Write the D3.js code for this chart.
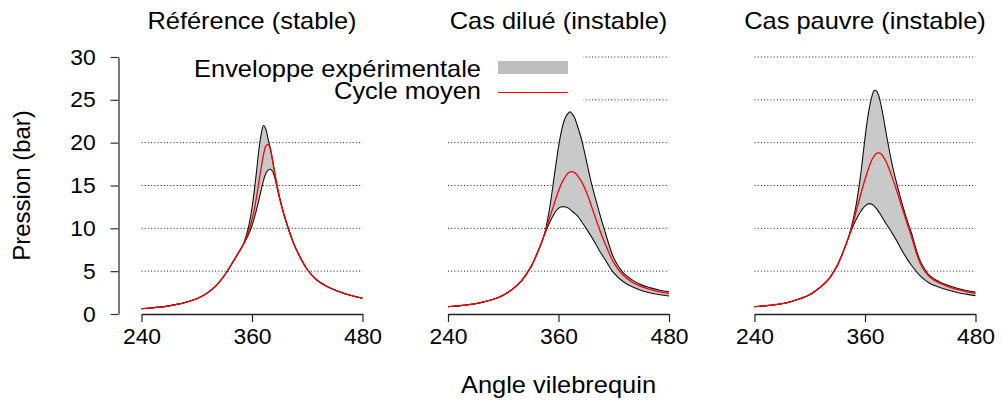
<!DOCTYPE html>
<html>
<head>
<meta charset="utf-8">
<script src="https://cdn.jsdelivr.net/npm/d3@7"></script>
<style>
  html, body { margin: 0; padding: 0; background: #fff; }
  svg text { font-family: "Liberation Sans", Arial, Helvetica, sans-serif; fill: #000; }
</style>
</head>
<body>
<svg id="chart" width="1002" height="403"></svg>
<script>
// ---- Data ----
const angles = [240,250,260,270,280,290,300,310,320,330,340,345,350,355,357.5,360,362.5,365,367.5,370,372.5,375,377.5,380,382.5,385,387.5,390,395,400,405,410,420,430,440,450,460,470,480];

const panelTitles = ["Référence (stable)", "Cas dilué (instable)", "Cas pauvre (instable)"];

const refLower = [0.62,0.70,0.80,0.95,1.15,1.42,1.78,2.35,3.20,4.50,6.20,7.10,8.00, 9.0,9.6,10.3,11.2,12.2,13.3,14.5,15.6,16.4,16.8,16.9,16.6,15.8,14.6,13.5, 11.5,9.8,8.3,7.1,5.2,4.0,3.3,2.8,2.4,2.1,1.84];
const refMean  = [0.62,0.70,0.80,0.95,1.15,1.42,1.78,2.35,3.20,4.50,6.20,7.10,8.00, 9.2,10.0,11.0,12.2,13.7,15.4,17.1,18.6,19.6,19.8,19.2,17.8,16.2,14.8,13.5, 11.5,9.8,8.3,7.1,5.2,4.0,3.3,2.8,2.4,2.1,1.84];
const refUpper = [0.62,0.70,0.80,0.95,1.15,1.42,1.78,2.35,3.20,4.50,6.20,7.10,8.00, 9.6,10.8,12.4,14.4,16.7,19.2,21.0,22.0,21.6,20.4,19.3,17.9,16.3,14.9,13.6, 11.5,9.8,8.3,7.1,5.2,4.0,3.3,2.8,2.4,2.1,1.84];

const dilLower = [0.85,0.95,1.05,1.20,1.45,1.75,2.20,2.90,3.90,5.50,7.90, 9.3,10.6,11.65,12.05,12.33,12.48,12.53,12.5,12.4,12.22,11.98,11.75,11.5,11.18,10.8,10.4,10.0,9.15,8.25,7.3,6.45,4.8,3.8,3.18,2.75,2.45,2.25,2.1];
const dilMean  = [0.85,0.95,1.05,1.20,1.45,1.75,2.20,2.90,3.90,5.50,7.90, 9.35,11.1,12.75,13.6,14.35,15.05,15.6,16.05,16.4,16.6,16.6,16.5,16.25,15.85,15.45,14.9,14.3,12.85,11.25,9.75,8.35,6.0,4.55,3.72,3.2,2.85,2.58,2.4];
const dilUpper = [0.85,0.95,1.05,1.20,1.45,1.75,2.20,2.90,3.90,5.50,7.90, 9.45,12.1,15.8,17.7,19.5,21.0,22.15,22.95,23.35,23.6,23.35,22.9,22.15,21.3,20.4,19.25,18.05,15.6,13.55,11.6,9.8,6.55,4.85,3.98,3.4,3.05,2.78,2.6];

const pauLower = [0.85,0.95,1.05,1.20,1.45,1.80,2.25,3.00,4.00,5.70,8.30, 9.75,10.95,11.9,12.3,12.6,12.8,12.88,12.82,12.6,12.3,11.92,11.5,11.05,10.6,10.2,9.8,9.35,8.45,7.45,6.55,5.75,4.45,3.6,3.15,2.8,2.52,2.32,2.15];
const pauMean  = [0.85,0.95,1.05,1.20,1.45,1.80,2.25,3.00,4.00,5.70,8.30, 9.85,11.85,13.8,14.8,15.7,16.55,17.35,18.0,18.47,18.75,18.8,18.68,18.35,17.85,17.25,16.55,15.8,14.2,12.5,10.8,9.2,5.9,4.35,3.65,3.2,2.88,2.62,2.4];
const pauUpper = [0.85,0.95,1.05,1.20,1.45,1.80,2.25,3.00,4.00,5.70,8.30, 10.05,12.5,16.0,18.25,20.55,22.6,24.2,25.4,26.1,26.05,25.45,24.35,22.95,21.4,19.9,18.5,17.2,15.0,13.0,11.2,9.6,6.2,4.5,3.8,3.35,3.0,2.75,2.55];

const yTicks = [0,5,10,15,20,25,30];
const gridValues = [5,10,15,20,25,30];
const xTicks = [240,360,480];
const legendLabels = ["Enveloppe expérimentale", "Cycle moyen"];
const xTitle = "Angle vilebrequin";
const yTitle = "Pression (bar)";

// ---- Layout ----
const svg = d3.select("#chart");
const panelLefts = [141.5, 448, 754.5];
const panelWidth = 221;
const yTop = 57, yBottom = 314;
const SX = 1.06; // horizontal text stretch seen in the reference

const series = [
  {lower: refLower, mean: refMean, upper: refUpper},
  {lower: dilLower, mean: dilMean, upper: dilUpper},
  {lower: pauLower, mean: pauMean, upper: pauUpper}
];

const y = d3.scaleLinear().domain([0, 30]).range([yBottom, yTop]);

function stretchedText(parent, x, yy, txt, size, anchor, sx) {
  return parent.append("text")
    .attr("transform", `translate(${x},${yy}) scale(${sx},1)`)
    .attr("text-anchor", anchor).attr("font-size", size).text(txt);
}

series.forEach((s, i) => {
  const x = d3.scaleLinear().domain([240, 480]).range([panelLefts[i], panelLefts[i] + panelWidth]);
  const g = svg.append("g");

  g.selectAll("line.grid").data(gridValues).enter().append("line")
    .attr("x1", x(240)).attr("x2", x(480))
    .attr("y1", d => y(d)).attr("y2", d => y(d))
    .attr("stroke", "#222").attr("stroke-width", 1)
    .attr("stroke-dasharray", "1,2.2");

  const pts = angles.map((a, k) => ({a, lo: s.lower[k], m: s.mean[k], up: s.upper[k]}));
  const curve = d3.curveCatmullRom.alpha(0.5);

  g.append("path").datum(pts)
    .attr("d", d3.area().x(d => x(d.a)).y0(d => y(d.lo)).y1(d => y(d.up)).curve(curve))
    .attr("fill", "#c9c9c9").attr("stroke", "none");
  g.append("path").datum(pts)
    .attr("d", d3.line().x(d => x(d.a)).y(d => y(d.up)).curve(curve))
    .attr("fill", "none").attr("stroke", "#111").attr("stroke-width", 1.1);
  g.append("path").datum(pts)
    .attr("d", d3.line().x(d => x(d.a)).y(d => y(d.lo)).curve(curve))
    .attr("fill", "none").attr("stroke", "#111").attr("stroke-width", 1.1);
  g.append("path").datum(pts)
    .attr("d", d3.line().x(d => x(d.a)).y(d => y(d.m)).curve(curve))
    .attr("fill", "none").attr("stroke", "#ff0000").attr("stroke-width", 1.3);

  const xAxis = d3.axisBottom(x).tickValues(xTicks).tickSize(8).tickPadding(6).tickSizeOuter(0);
  const xg = g.append("g").attr("transform", `translate(0,${yBottom})`).call(xAxis);
  xg.select(".domain").attr("stroke", "#222").attr("stroke-width", 1.5);
  xg.selectAll(".tick line").attr("stroke", "#222").attr("stroke-width", 1.2);
  xg.selectAll(".tick text").attr("font-size", 22).attr("fill", "#000")
    .attr("transform", "scale(1.04,1)")
    .style("font-family", '"Liberation Sans", Arial, sans-serif');

  stretchedText(svg, x(360), 29, panelTitles[i], 24, "middle", SX);
});

const yAxis = d3.axisLeft(y).tickValues(yTicks).tickSize(8).tickPadding(14).tickSizeOuter(0);
const yg = svg.append("g").attr("transform", "translate(118.5,0)").call(yAxis);
yg.select(".domain").attr("stroke", "#333").attr("stroke-width", 1.3);
yg.selectAll(".tick line").attr("stroke", "#333").attr("stroke-width", 1.2);
yg.selectAll(".tick text").attr("font-size", 22).attr("fill", "#000")
  .attr("transform", "scale(1.04,1)")
  .style("font-family", '"Liberation Sans", Arial, sans-serif');

// legend
const lg = svg.append("g");
lg.append("rect").attr("x", 130).attr("y", 47).attr("width", 453).attr("height", 62).attr("fill", "#fff");
lg.append("rect").attr("x", 498).attr("y", 61).attr("width", 70).attr("height", 13).attr("fill", "#bebebe");
lg.append("line").attr("x1", 498).attr("x2", 568).attr("y1", 92.5).attr("y2", 92.5)
  .attr("stroke", "#ff0000").attr("stroke-width", 1.2);
stretchedText(lg, 481, 76.5, legendLabels[0], 24, "end", SX);
stretchedText(lg, 481, 99, legendLabels[1], 24, "end", SX);

// axis titles
stretchedText(svg, 558.5, 393, xTitle, 24, "middle", SX);
svg.append("text").attr("transform", "translate(30,185.5) rotate(-90)")
  .attr("text-anchor", "middle").attr("font-size", 24).text(yTitle);
</script>
</body>
</html>
